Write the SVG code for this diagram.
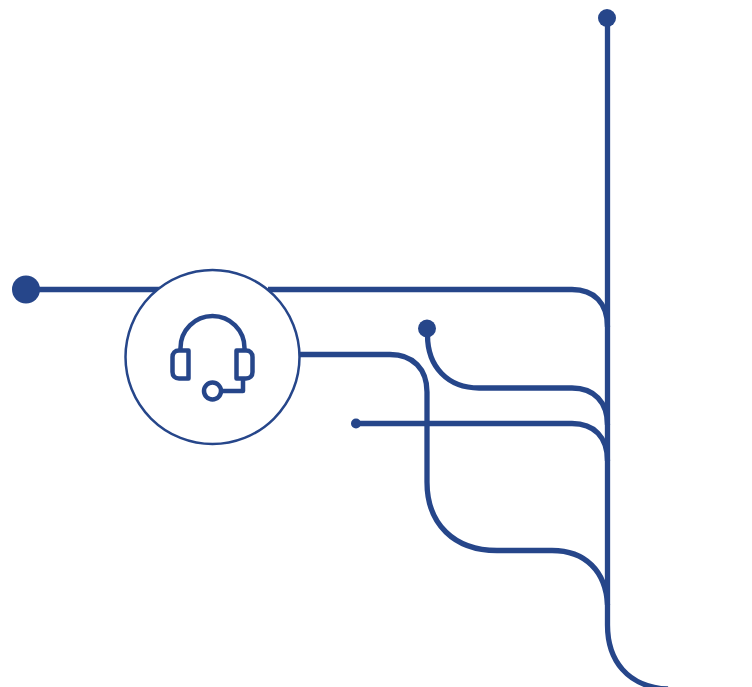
<svg xmlns="http://www.w3.org/2000/svg" width="752" height="687" viewBox="0 0 752 687">
<style>
.c{fill:none;stroke:#26468a;stroke-width:5.300}
.d{fill:#26468a}
.i{fill:none;stroke:#26468a;stroke-width:4.500;stroke-linejoin:round}
</style>
<rect width="752" height="687" fill="#fff"/>
<g id="connectors">
<path class="c" d="M26 289.500H160M268 289.500H572C594 289.500 607.500 303 607.500 327"/>
<path class="c" d="M427.500 328V335C427.500 367 448 388 479 388H572C594 388 607.500 402 607.500 425"/>
<path class="c" d="M356 423.500H572C594 423.500 607.500 437 607.500 461"/>
<path class="c" d="M299 354.500H390C413 354.500 427 369 427 392V482C427 524 454 550.500 497 550.500H552C585 550.500 606 571 607.500 605"/>
<path class="c" d="M607.500 18V625C607.500 660 627 687 668 689"/>
</g>
<g id="dot-top"><circle class="d" cx="607" cy="18" r="9"/></g>
<g id="dot-left"><circle class="d" cx="26" cy="289.500" r="14"/></g>
<g id="dot-mid"><circle class="d" cx="427" cy="328.500" r="9"/></g>
<g id="dot-small"><circle class="d" cx="356" cy="423.500" r="5"/></g>
<g id="headset-node">
<circle cx="212.500" cy="357" r="87" fill="#fff" stroke="#26468a" stroke-width="2.500"/>
<path class="i" d="M180.500 350V348A32 32 0 0 1 244.500 348V350"/>
<path class="i" d="M188.500 350.500V378.500H179C175 378.500 172.500 376 172.500 372V357C172.500 353 175 350.500 179 350.500Z"/>
<path class="i" d="M236.500 350.500V378.500H246C250 378.500 252.500 376 252.500 372V357C252.500 353 250 350.500 246 350.500Z"/>
<circle class="i" cx="212.500" cy="391" r="8.500"/>
<path class="i" d="M221 391H243V378.500"/>
</g>
</svg>
